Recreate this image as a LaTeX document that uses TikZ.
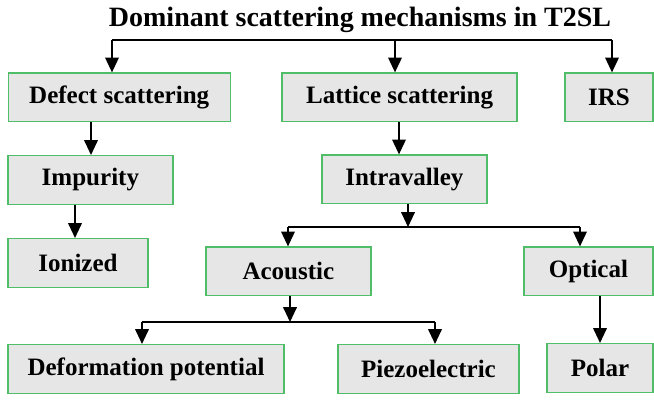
\documentclass[tikz,border=0pt]{standalone}
\usepackage{fontspec}
\setmainfont{Liberation Serif}
\usetikzlibrary{arrows.meta}
\definecolor{boxgreen}{RGB}{80,190,105}
\definecolor{boxgray}{RGB}{230,230,230}

\begin{document}
\begin{tikzpicture}[mech/.style={draw=boxgreen, line width=0.9pt, fill=boxgray, inner sep=0pt, minimum height=1.22cm, font=\bfseries\fontsize{17.8}{20}\selectfont},
  link/.style={line width=1.1pt},
  arr/.style={line width=1.1pt, -{Triangle[length=0.37cm, width=0.34cm]}}]
\useasboundingbox (0,0) rectangle (16.35,9.975);
\node[anchor=base, font=\bfseries\fontsize{19.9}{22}\selectfont] (title) at (9.0,9.325) {Dominant scattering mechanisms in T2SL};
\node[mech, minimum width=5.55cm] (defect) at (2.98,7.54) {Defect scattering};
\node[mech, minimum width=5.875cm] (lattice) at (9.99,7.54) {Lattice scattering};
\node[mech, minimum width=2.2cm] (irs) at (15.225,7.54) {IRS};
\node[mech, minimum width=4.125cm] (impurity) at (2.26,5.475) {Impurity};
\node[mech, minimum width=3.5cm] (ionized) at (1.95,3.4) {Ionized};
\node[mech, minimum width=4.125cm] (intravalley) at (10.11,5.49) {Intravalley};
\node[mech, minimum width=4.125cm] (acoustic) at (7.21,3.19) {Acoustic};
\node[mech, minimum width=3.225cm] (optical) at (14.71,3.19) {Optical};
\node[mech, minimum width=6.9cm] (deformation) at (3.65,0.75) {Deformation potential};
\node[mech, minimum width=4.525cm] (piezo) at (10.71,0.75) {Piezoelectric};
\node[mech, minimum width=2.65cm] (polar) at (15.0,0.775) {Polar};
\coordinate (T1) at (2.8,8.975);
\coordinate (T2) at (9.875,8.975);
\coordinate (T3) at (15.3,8.975);
\coordinate (B1) at (7.2,4.3);
\coordinate (B2) at (14.5,4.3);
\coordinate (S1) at (10.2,4.3);
\coordinate (C1) at (3.55,1.925);
\coordinate (C2) at (10.875,1.925);
\coordinate (S2) at (7.25,1.925);
\coordinate (D1) at (2.275,0);
\coordinate (D2) at (1.875,0);
\coordinate (L1) at (9.975,0);
\coordinate (P1) at (15.0,0);
\draw[link] (T1) -- (T3);
\draw[arr] (T1) -- (T1 |- defect.north);
\draw[arr] (T2) -- (T2 |- lattice.north);
\draw[arr] (T3) -- (T3 |- irs.north);
\draw[arr] (D1 |- defect.south) -- (D1 |- impurity.north);
\draw[arr] (D2 |- impurity.south) -- (D2 |- ionized.north);
\draw[arr] (L1 |- lattice.south) -- (L1 |- intravalley.north);
\draw[arr] (S1 |- intravalley.south) -- (S1);
\draw[link] (B1) -- (B2);
\draw[arr] (B1) -- (B1 |- acoustic.north);
\draw[arr] (B2) -- (B2 |- optical.north);
\draw[arr] (S2 |- acoustic.south) -- (S2);
\draw[link] (C1) -- (C2);
\draw[arr] (C1) -- (C1 |- deformation.north);
\draw[arr] (C2) -- (C2 |- piezo.north);
\draw[arr] (P1 |- optical.south) -- (P1 |- polar.north);
\end{tikzpicture}
\end{document}
